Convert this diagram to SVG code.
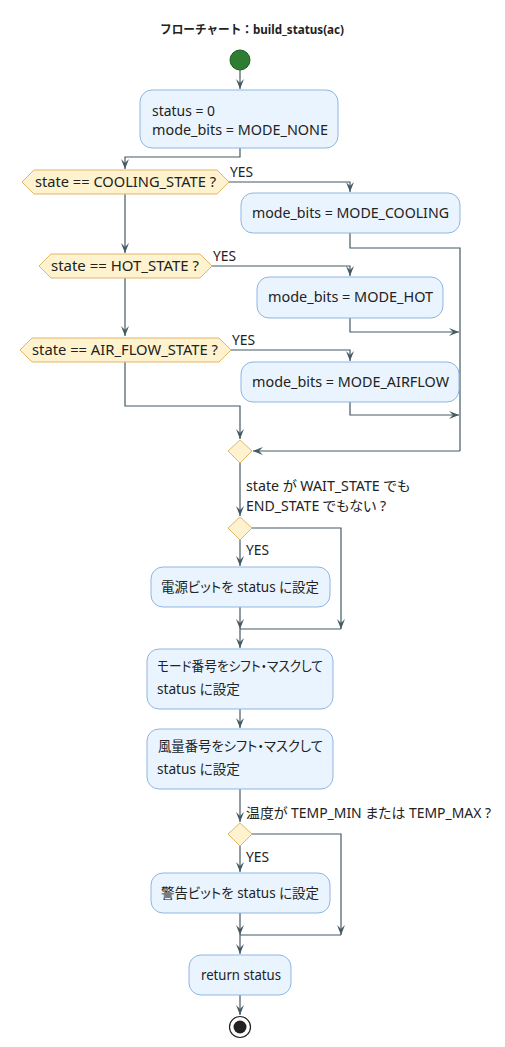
<svg xmlns="http://www.w3.org/2000/svg" width="505" height="1047" viewBox="0 0 505 1047">
<style>
text{font-family:"Noto Sans","Noto Sans CJK JP",sans-serif;font-size:13.5px;fill:#222;font-feature-settings:"palt";}
.t{font-weight:bold;font-size:12.5px;font-feature-settings:normal}
.box{fill:#EAF4FE;stroke:#8DB5E2;stroke-width:1}
.dec{fill:#FEF3CE;stroke:#E2B668;stroke-width:1}
.ln{fill:none;stroke:#455A64;stroke-width:1.2}
.ar{marker-end:url(#ah)}
</style>
<defs>
<marker id="ah" markerUnits="userSpaceOnUse" markerWidth="12" markerHeight="10" refX="10" refY="4" orient="auto">
<path d="M0,0 L10,4 L0,8 L4,4 Z" fill="#455A64"/>
</marker>
</defs>
<rect width="505" height="1047" fill="#fff"/>
<text class="t" x="252" y="34" text-anchor="middle" textLength="184" lengthAdjust="spacingAndGlyphs">フローチャート：build_status(ac)</text>

<g id="connectors">
<path class="ln ar" d="M240,70 V89"/>
<path class="ln ar" d="M240,148 V157 H125 V169"/>
<path class="ln ar" d="M229,182 H350 V192"/>
<path class="ln" d="M350,233 V248 H460 V451"/>
<path class="ln ar" d="M460,451 H253"/>
<path class="ln ar" d="M125,194 V253"/>
<path class="ln ar" d="M212,266 H350 V276"/>
<path class="ln ar" d="M350,318 V332 H459"/>
<path class="ln ar" d="M125,278 V336"/>
<path class="ln ar" d="M231,350 H350 V361"/>
<path class="ln ar" d="M350,402 V415 H459"/>
<path class="ln ar" d="M125,362 V406 H240 V439"/>
<path class="ln ar" d="M240,463 V516"/>
<path class="ln ar" d="M252,528 H341 V629"/>
<path class="ln" d="M341,629 H240"/>
<path class="ln ar" d="M240,540 V566"/>
<path class="ln ar" d="M240,607 V629"/>
<path class="ln ar" d="M240,629 V648"/>
<path class="ln ar" d="M240,709 V728"/>
<path class="ln ar" d="M240,789 V822"/>
<path class="ln ar" d="M252,834 H341 V935"/>
<path class="ln" d="M341,935 H240"/>
<path class="ln ar" d="M240,846 V872"/>
<path class="ln ar" d="M240,913 V935"/>
<path class="ln ar" d="M240,935 V954"/>
<path class="ln ar" d="M240,995 V1015"/>
</g>

<g id="start"><circle cx="240" cy="60" r="10" fill="#2E7D32" stroke="#1B5E20" stroke-width="1"/></g>

<g id="init">
<rect class="box" x="140" y="90" width="198" height="58" rx="12"/>
<text x="152" y="116" textLength="63" lengthAdjust="spacingAndGlyphs">status = 0</text>
<text x="152" y="135" textLength="176" lengthAdjust="spacingAndGlyphs">mode_bits = MODE_NONE</text>
</g>

<g id="d_cooling">
<polygon class="dec" points="22,182 34,170 217,170 229,182 217,194 34,194"/>
<text x="35" y="187" textLength="181" lengthAdjust="spacingAndGlyphs">state == COOLING_STATE ?</text>
<text x="230" y="177" textLength="23" lengthAdjust="spacingAndGlyphs">YES</text>
</g>
<g id="b_cooling">
<rect class="box" x="241" y="193" width="219" height="40" rx="12"/>
<text x="252" y="218" textLength="197" lengthAdjust="spacingAndGlyphs">mode_bits = MODE_COOLING</text>
</g>

<g id="d_hot">
<polygon class="dec" points="39,266 51,254 200,254 212,266 200,278 51,278"/>
<text x="51" y="271" textLength="148" lengthAdjust="spacingAndGlyphs">state == HOT_STATE ?</text>
<text x="213" y="261" textLength="23" lengthAdjust="spacingAndGlyphs">YES</text>
</g>
<g id="b_hot">
<rect class="box" x="257" y="277" width="186" height="41" rx="12"/>
<text x="268" y="302" textLength="165" lengthAdjust="spacingAndGlyphs">mode_bits = MODE_HOT</text>
</g>

<g id="d_air">
<polygon class="dec" points="20,350 32,338 219,338 231,350 219,362 32,362"/>
<text x="32" y="355" textLength="186" lengthAdjust="spacingAndGlyphs">state == AIR_FLOW_STATE ?</text>
<text x="232" y="345" textLength="23" lengthAdjust="spacingAndGlyphs">YES</text>
</g>
<g id="b_air">
<rect class="box" x="241" y="362" width="218" height="40" rx="12"/>
<text x="252" y="387" textLength="197" lengthAdjust="spacingAndGlyphs">mode_bits = MODE_AIRFLOW</text>
</g>

<g id="merge1"><polygon class="dec" points="240,440 252,451 240,463 228,451"/></g>

<g id="d_power">
<text x="246" y="491" textLength="164" lengthAdjust="spacingAndGlyphs">state が WAIT_STATE でも</text>
<text x="246" y="511" textLength="140" lengthAdjust="spacingAndGlyphs">END_STATE でもない ?</text>
<polygon class="dec" points="240,517 252,528 240,540 228,528"/>
<text x="246" y="555" textLength="23" lengthAdjust="spacingAndGlyphs">YES</text>
</g>
<g id="b_power">
<rect class="box" x="151" y="567" width="179" height="40" rx="12"/>
<text x="161" y="592" textLength="158" lengthAdjust="spacingAndGlyphs">電源ビットを status に設定</text>
</g>

<g id="b_mode">
<rect class="box" x="147" y="649" width="186" height="60" rx="12"/>
<text x="157" y="671" textLength="166" lengthAdjust="spacingAndGlyphs">モード番号をシフト・マスクして</text>
<text x="157" y="694" textLength="83" lengthAdjust="spacingAndGlyphs">status に設定</text>
</g>

<g id="b_fan">
<rect class="box" x="147" y="729" width="186" height="60" rx="12"/>
<text x="158" y="751" textLength="165" lengthAdjust="spacingAndGlyphs">風量番号をシフト・マスクして</text>
<text x="157" y="774" textLength="83" lengthAdjust="spacingAndGlyphs">status に設定</text>
</g>

<g id="d_temp">
<text x="246" y="818" textLength="245" lengthAdjust="spacingAndGlyphs">温度が TEMP_MIN または TEMP_MAX ?</text>
<polygon class="dec" points="240,823 252,834 240,846 228,834"/>
<text x="246" y="862" textLength="23" lengthAdjust="spacingAndGlyphs">YES</text>
</g>
<g id="b_warn">
<rect class="box" x="151" y="873" width="179" height="40" rx="12"/>
<text x="161" y="898" textLength="158" lengthAdjust="spacingAndGlyphs">警告ビットを status に設定</text>
</g>

<g id="b_return">
<rect class="box" x="189" y="955" width="102" height="40" rx="12"/>
<text x="201" y="980" textLength="80" lengthAdjust="spacingAndGlyphs">return status</text>
</g>

<g id="end">
<circle cx="240" cy="1027" r="10.5" fill="#fff" stroke="#222" stroke-width="1.2"/>
<circle cx="240" cy="1027" r="6.5" fill="#222"/>
</g>
</svg>
